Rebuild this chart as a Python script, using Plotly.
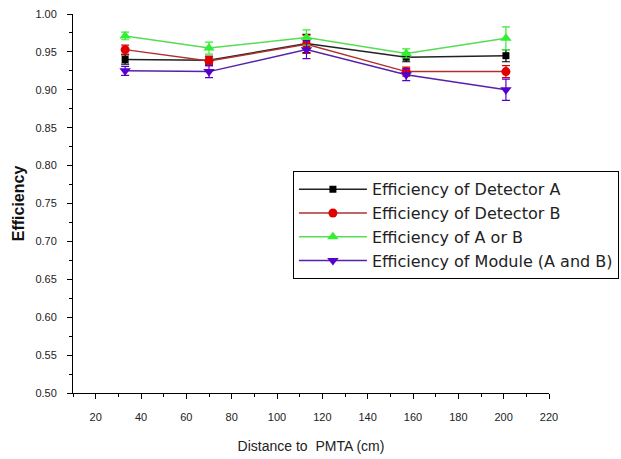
import plotly.graph_objects as go

distance = [33, 70, 113, 157, 201]
det_a = [0.940, 0.939, 0.961, 0.943, 0.945]
det_a_err = [0.006, 0.005, 0.012, 0.006, 0.008]
det_b = [0.953, 0.938, 0.960, 0.924, 0.924]
det_b_err = [0.006, 0.006, 0.012, 0.006, 0.008]
a_or_b = [0.971, 0.955, 0.969, 0.948, 0.968]
a_or_b_err = [0.005, 0.008, 0.010, 0.006, 0.015]
module = [0.925, 0.924, 0.953, 0.920, 0.900]
module_err = [0.006, 0.008, 0.012, 0.008, 0.014]

names = ["Efficiency of Detector A", "Efficiency of Detector B",
         "Efficiency of A or B", "Efficiency of Module (A and B)"]
series = [det_a, det_b, a_or_b, module]
errs = [det_a_err, det_b_err, a_or_b_err, module_err]
colors = ["#000000", "#e00000", "#33ee33", "#5500cc"]
lines = ["#222222", "#b03030", "#55dd55", "#5522aa"]
symbols = ["square", "circle", "triangle-up", "triangle-down"]
sizes = [7, 9, 10, 10]

fig = go.Figure()
for n, s, e, c, lc, sym, sz in zip(names, series, errs, colors, lines, symbols, sizes):
    fig.add_trace(go.Scatter(
        x=distance, y=s, name=n, mode="lines+markers",
        line=dict(color=lc, width=1.5),
        marker=dict(color=c, symbol=sym, size=sz),
        error_y=dict(type="data", array=e, color=c, thickness=1.2, width=4),
    ))

axis_font = dict(family="Liberation Sans, Arial", size=11, color="#222222")
fig.update_layout(
    width=621, height=459,
    margin=dict(l=73, r=72, t=14, b=66, autoexpand=False),
    paper_bgcolor="white", plot_bgcolor="white",
    font=dict(family="Liberation Sans, Arial", color="#222222"),
    xaxis=dict(range=[10, 220], tickvals=list(range(20, 221, 20)), automargin=False,
               showgrid=False, zeroline=False, showline=True, linecolor="black",
               linewidth=1, ticks="outside", ticklen=5, tickcolor="black",
               minor=dict(ticks="outside", ticklen=3, dtick=10, tick0=0, tickcolor="black"),
               tickfont=axis_font, ticklabelstandoff=9,
               title=dict(text="Distance to  PMTA (cm)", font=dict(size=14, color="#222222"), standoff=18)),
    yaxis=dict(range=[0.5, 1.0], dtick=0.05, tickformat=".2f", automargin=False,
               showgrid=False, zeroline=False, showline=True, linecolor="black",
               linewidth=1, ticks="outside", ticklen=5, tickcolor="black",
               minor=dict(ticks="outside", ticklen=3, dtick=0.025, tickcolor="black"),
               tickfont=axis_font, ticklabelstandoff=8,
               title=dict(text="<b>Efficiency</b>", font=dict(size=16, color="#111111"), standoff=6)),
    legend=dict(x=0.462, y=0.585, xanchor="left", yanchor="top",
                bordercolor="black", borderwidth=1, bgcolor="white",
                font=dict(family="DejaVu Sans", size=16, color="#222222"),
                itemwidth=68),
    showlegend=True,
)
fig.write_html("out.html")
